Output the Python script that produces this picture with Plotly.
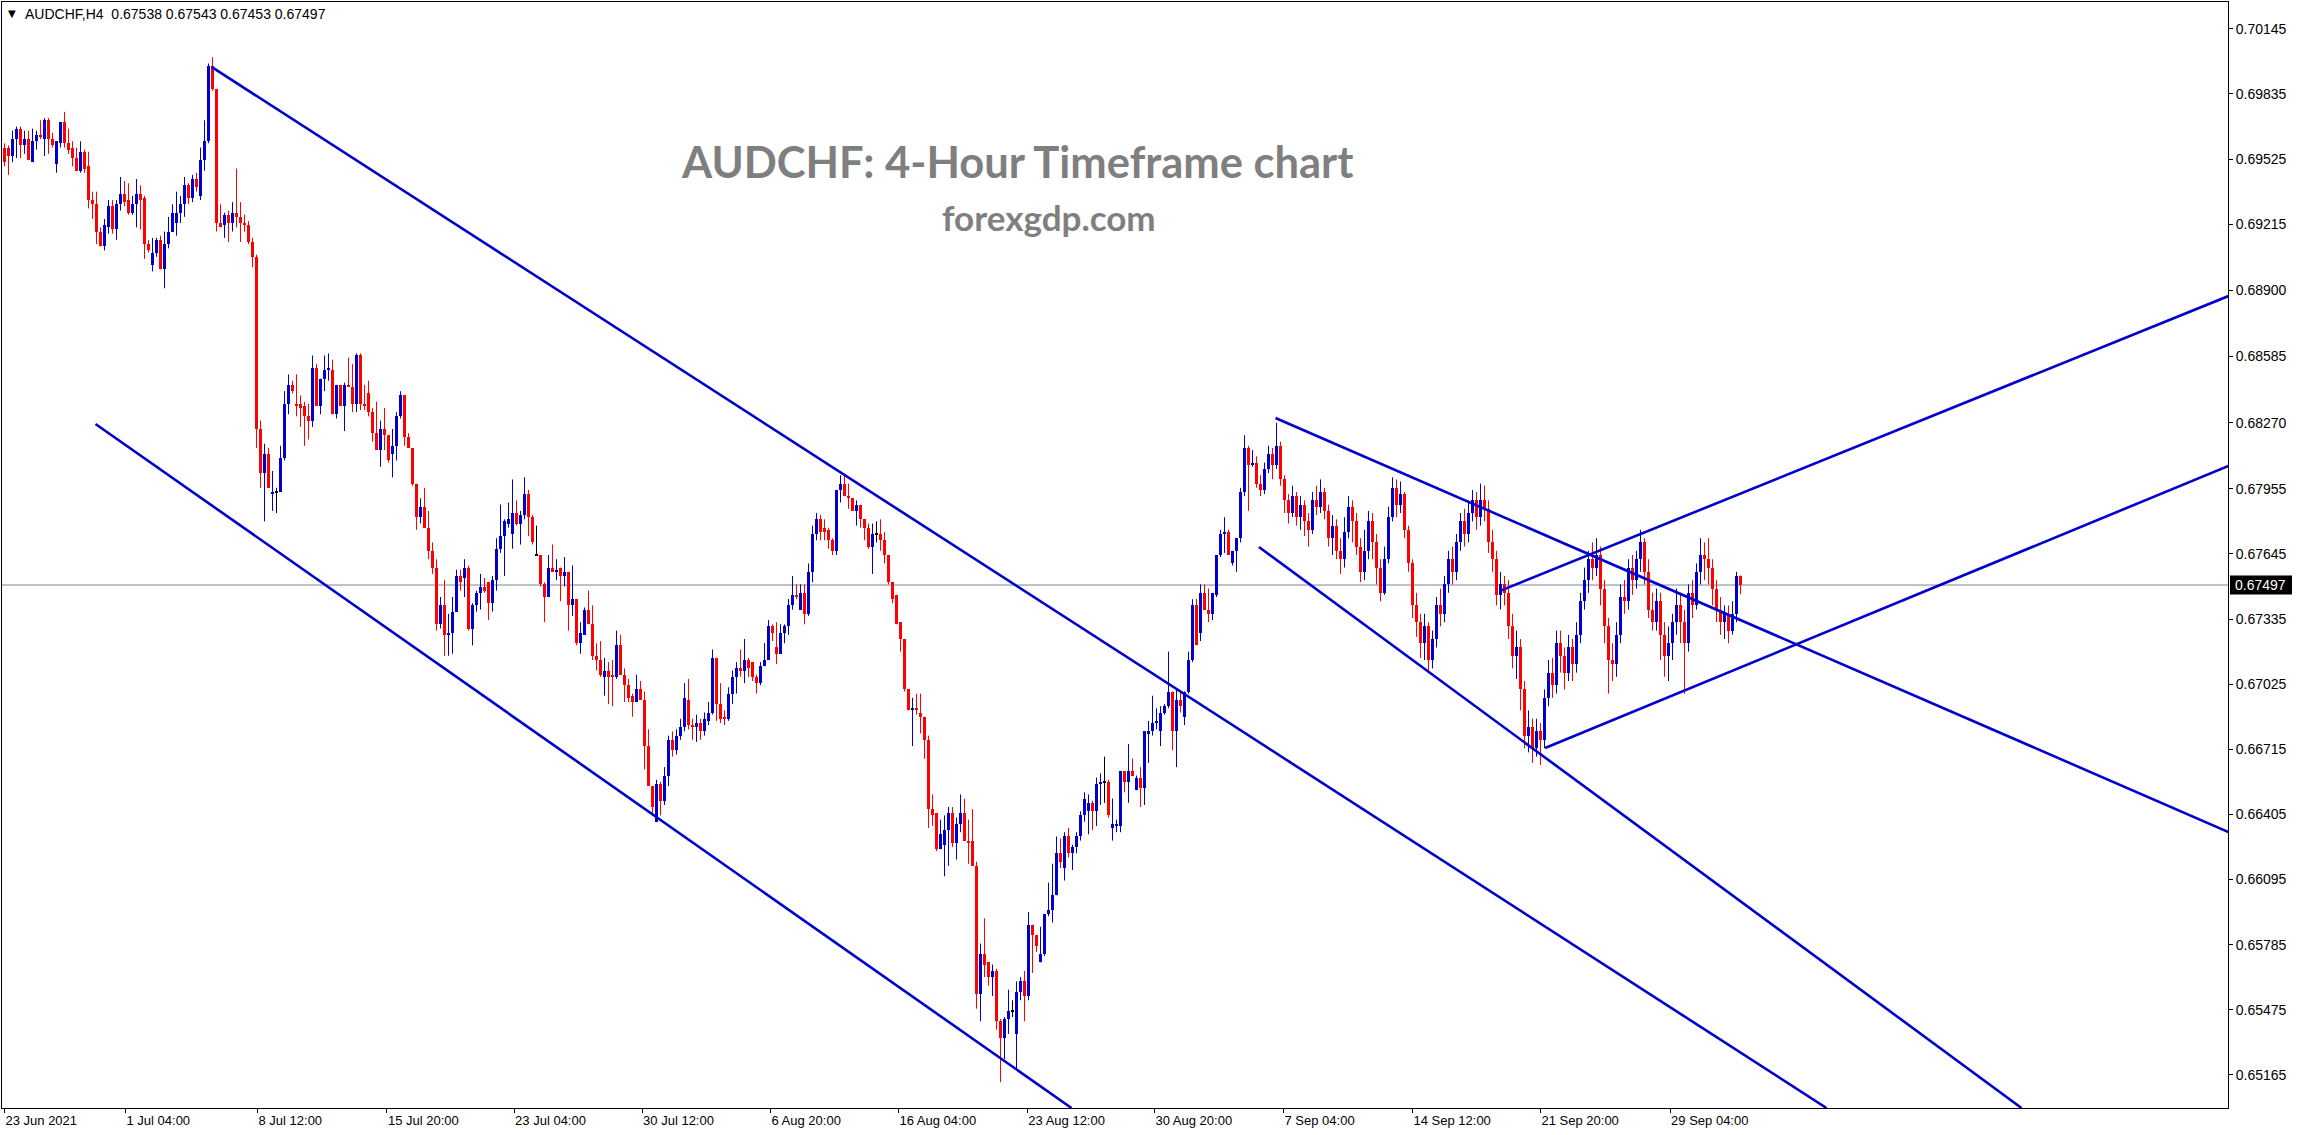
import plotly.graph_objects as go

# ---------------- DATA ----------------
# Prices are stored in pips above BASE: price = BASE + pips * PIP
BASE = 0.65
PIP = 0.0001

open_pips = [
458,458,454,462,467,459,462,451,461,464,
462,471,462,450,460,470,460,458,453,447,
456,449,433,431,418,411,420,430,419,431,
436,433,427,431,436,434,412,402,408,414,
400,412,418,422,427,431,440,434,443,435,
452,461,497,486,422,421,426,422,427,425,
422,421,413,406,324,303,312,293,294,294,
310,336,345,336,336,335,330,328,353,335,
348,352,352,331,345,335,345,344,336,359,
336,341,332,322,314,324,321,312,316,330,
340,320,315,298,282,287,277,266,258,231,
240,226,227,237,254,253,258,229,240,246,
249,251,241,252,267,273,279,274,284,279,
283,293,282,264,264,250,244,258,256,258,
254,256,240,243,222,226,238,231,216,214,
206,209,207,206,221,207,202,197,194,200,
195,173,154,137,155,147,159,176,171,178,
182,195,183,182,184,180,185,189,215,193,
187,186,198,206,210,209,214,213,206,203,
211,214,230,220,217,227,230,240,245,238,
246,236,256,274,281,277,276,271,266,295,
298,292,291,285,288,281,277,268,274,274,
271,264,251,245,232,224,200,190,191,189,
187,176,143,141,124,126,133,141,127,136,
141,128,128,116,55,74,70,63,66,42,
34,43,47,36,56,61,54,88,83,70,
74,93,95,102,122,115,130,122,125,130,
140,142,146,142,155,156,156,134,135,135,
161,156,161,152,158,153,179,180,184,180,
189,192,199,180,195,187,199,214,240,227,
246,238,236,245,264,274,275,260,266,272,
294,315,307,308,298,295,305,312,307,316,
300,290,284,292,282,288,280,276,290,287,
294,285,272,278,266,262,275,287,280,268,
256,266,280,270,258,246,262,282,296,288,
293,276,260,240,232,222,230,214,224,240,
236,250,262,256,270,280,274,284,290,282,
290,286,270,262,245,250,246,230,216,220,
200,178,182,172,180,176,196,208,202,222,
216,208,220,212,226,242,252,262,258,264,
248,230,214,212,226,244,242,258,252,262,
270,256,238,232,242,226,216,222,232,240,
232,222,246,240,256,264,262,258,248,238,
232,236,228,236,253.8,
]

high_pips = [
460,459,466,468,468,466,466,467,466,471,
472,472,465,461,470,475,467,461,458,461,
457,456,437,437,420,424,433,433,433,444,
442,441,435,443,440,435,414,415,415,416,
418,425,431,437,435,444,441,445,446,458,
471,498,501,486,431,427,428,432,448,432,
426,423,415,407,328,317,315,304,296,316,
342,350,347,350,340,337,336,359,355,348,
359,360,357,345,345,346,358,355,360,360,
345,347,334,337,328,334,321,324,332,342,
340,322,315,298,291,296,285,270,262,244,
252,236,244,257,257,262,259,241,247,255,
253,251,254,272,288,281,289,300,290,285,
301,295,283,278,264,251,264,269,262,258,
263,256,259,243,232,239,247,240,222,223,
215,213,214,228,226,210,205,198,207,204,
199,181,154,157,156,163,178,180,181,186,
203,205,186,188,186,189,194,219,215,203,
190,201,209,213,219,224,215,213,207,213,
222,233,231,232,231,231,243,254,250,250,
250,260,278,284,283,281,277,272,295,302,
303,298,291,290,288,281,279,279,280,281,
275,264,251,245,232,224,200,196,198,198,
187,178,150,141,138,140,144,144,139,150,
148,138,143,118,79,91,70,69,67,43,
44,57,52,61,63,66,94,88,83,87,
93,108,117,130,129,132,134,126,132,142,
151,150,147,158,160,168,157,148,138,161,
161,174,167,159,163,180,185,197,191,192,
193,218,199,200,199,199,218,243,243,250,
250,248,246,264,276,282,276,266,272,296,
321,316,314,311,302,308,316,315,327,318,
302,293,297,294,292,290,284,294,297,300,
296,288,283,281,272,282,292,290,284,272,
276,285,284,274,262,268,287,301,300,299,
294,278,262,246,236,236,232,228,244,248,
254,266,268,274,284,286,290,295,294,298,
297,290,276,266,256,254,252,236,228,224,
204,190,186,186,184,200,214,215,228,228,
220,226,224,232,246,258,266,270,272,268,
252,234,222,232,250,252,262,264,266,276,
272,262,246,248,246,232,230,236,248,246,
238,250,252,260,272,270,272,262,252,244,
240,240,242,256,254.3,
]

low_pips = [
449,445,451,453,453,455,452,451,457,462,
454,455,458,446,458,458,455,449,447,446,
446,429,424,412,411,409,417,417,414,428,
430,426,426,420,419,405,408,399,406,400,
391,410,418,416,422,425,431,432,437,433,
447,460,485,418,420,415,413,418,420,413,
418,412,401,315,296,280,296,285,284,294,
309,331,341,330,325,316,319,325,335,331,
342,347,331,329,335,323,344,332,332,333,
333,330,318,314,306,314,308,301,309,329,
316,315,297,276,279,277,262,255,228,229,
216,216,217,237,247,244,228,221,237,238,
246,233,237,247,265,254,277,267,278,269,
281,273,269,264,249,232,244,256,252,242,
249,228,235,221,217,226,231,214,209,206,
197,193,192,205,207,194,194,187,194,195,
162,154,140,137,140,145,154,168,169,176,
180,181,176,175,176,178,183,188,185,184,
183,185,193,198,206,203,206,204,198,202,
211,214,223,212,217,222,226,238,243,238,
231,235,251,271,271,271,267,264,264,289,
292,286,285,278,277,271,267,255,270,266,
260,250,241,231,218,199,190,173,188,179,
167,134,135,123,124,111,116,125,119,132,
128,117,116,48,42,63,59,54,38,13,
24,36,44,19,52,42,52,65,75,70,
73,92,89,102,115,109,120,114,122,128,
137,131,133,135,145,146,139,128,132,132,
151,146,159,152,144,145,165,178,181,173,
188,191,171,163,189,183,198,213,221,223,
238,232,233,244,263,265,264,259,256,270,
292,285,306,296,292,293,303,300,305,297,
284,279,282,278,276,273,268,274,283,284,
281,268,264,262,255,258,272,270,264,251,
252,262,262,250,242,245,260,280,282,284,
272,256,234,225,215,214,208,210,220,230,
232,246,250,252,266,268,270,280,276,278,
280,265,256,240,238,240,224,210,205,190,
172,170,165,168,164,172,192,196,198,208,
200,204,204,208,222,238,246,252,254,240,
222,198,204,206,222,236,238,245,248,256,
250,234,228,228,214,206,204,214,226,222,
198,218,234,238,250,252,250,240,232,226,
224,222,226,232,245.3,
]

close_pips = [
451,454,462,467,459,462,452,461,464,463,
471,462,459,461,470,460,457,453,447,456,
448,433,431,418,411,421,430,419,431,436,
432,427,431,436,433,412,409,408,414,400,
412,418,427,427,431,440,434,443,439,452,
461,497,486,422,420,426,422,427,425,422,
421,413,406,324,303,312,296,294,294,310,
336,345,342,335,334,330,328,353,335,348,
352,353,331,345,335,345,344,336,359,336,
335,332,322,314,324,321,309,316,330,340,
320,315,298,282,287,277,266,258,231,240,
226,227,237,254,251,258,229,240,246,249,
247,241,252,267,273,280,281,284,279,283,
293,282,270,264,250,244,258,256,257,254,
256,240,243,222,227,238,231,216,214,207,
209,206,206,221,207,202,196,194,200,195,
173,154,144,155,147,159,176,171,178,182,
196,183,182,184,180,186,189,215,193,186,
186,198,206,210,209,214,210,206,203,211,
214,230,227,217,227,230,240,245,244,246,
236,256,274,281,275,275,271,266,295,298,
292,291,285,288,281,277,268,274,274,271,
264,251,243,231,224,200,190,191,190,187,
176,143,140,124,131,133,141,127,136,141,
128,127,116,55,74,69,63,66,42,34,
43,47,47,56,61,54,88,83,78,74,
93,95,102,122,118,130,122,125,130,140,
148,146,142,155,156,156,140,136,136,161,
156,161,159,158,153,180,180,184,185,189,
192,199,180,195,192,199,214,240,221,246,
238,236,246,264,274,275,264,266,272,294,
315,307,308,298,295,305,312,307,316,300,
290,284,292,282,288,280,276,290,287,294,
285,272,278,266,262,275,287,280,268,256,
266,280,270,258,246,262,282,296,288,293,
276,260,240,232,222,230,214,224,240,236,
250,262,256,270,280,274,284,290,282,290,
286,270,262,245,250,246,230,216,220,200,
178,182,172,180,176,196,208,202,222,216,
208,220,212,226,242,252,262,258,264,248,
230,214,212,226,244,242,258,252,262,270,
256,238,232,242,226,216,222,232,240,232,
222,246,240,256,264,262,258,248,238,232,
236,228,236,254,249.7,
]

# time-axis labels (positions in bar numbers)
x_tick_bars = [0, 30.25, 63.25, 95.6, 127.4, 159.4, 191.5, 223.5, 255.7, 287.5, 319.75, 352, 384, 416.4]
x_tick_labels = ["23 Jun 2021", "1 Jul 04:00", "8 Jul 12:00", "15 Jul 20:00", "23 Jul 04:00",
                 "30 Jul 12:00", "6 Aug 20:00", "16 Aug 04:00", "23 Aug 12:00", "30 Aug 20:00",
                 "7 Sep 04:00", "14 Sep 12:00", "21 Sep 20:00", "29 Sep 04:00"]

# price-axis labels
y_tick_values = [0.70145, 0.69835, 0.69525, 0.69215, 0.68900, 0.68585, 0.68270, 0.67955, 0.67645,
                 0.67335, 0.67025, 0.66715, 0.66405, 0.66095, 0.65785, 0.65475, 0.65165]

symbol_name = "AUDCHF,H4"
last_bar_ohlc = [0.67538, 0.67543, 0.67453, 0.67497]
last_price = 0.67497

# trend lines: (bar0, price0, bar1, price1)
trend_lines = [
    (51.75, 0.69964, 455.5, 0.65007),
    (22.75, 0.68264, 266.75, 0.65007),
    (317.75, 0.68292, 556.0, 0.66321),
    (313.6, 0.67678, 504.25, 0.65007),
    (385.15, 0.66721, 556.0, 0.68064),
    (373.75, 0.67468, 556.0, 0.68873),
]

title_text = "AUDCHF: 4-Hour Timeframe chart"
subtitle_text = "forexgdp.com"

# ---------------- FIGURE ----------------
n = len(close_pips)
assert len(open_pips) == n and len(high_pips) == n and len(low_pips) == n

to_price = lambda v: BASE + v * PIP
O = [to_price(v) for v in open_pips]
H = [to_price(v) for v in high_pips]
L = [to_price(v) for v in low_pips]
C = [to_price(v) for v in close_pips]
idx = list(range(n))

UP = "#0000CD"
DN = "#FF0000"
DJ = "#000000"

colors, bases, heights = [], [], []
wick = {UP: ([], []), DN: ([], []), DJ: ([], [])}
for i in idx:
    o, h, l, c = O[i], H[i], L[i], C[i]
    if abs(c - o) < 1e-9:
        col = DJ
    elif c > o:
        col = UP
    else:
        col = DN
    colors.append(col)
    lo = min(o, c)
    hgt = abs(c - o)
    if hgt < 0.00005:
        lo = (o + c) / 2 - 0.000025
        hgt = 0.00005
    bases.append(lo)
    heights.append(hgt)
    wx, wy = wick[col]
    wx += [i, i, None]
    wy += [l, h, None]

fig = go.Figure()
for col, (wx, wy) in wick.items():
    fig.add_trace(go.Scatter(x=wx, y=wy, mode="lines", line=dict(color=col, width=1),
                             hoverinfo="skip", showlegend=False))
fig.add_trace(go.Bar(x=idx, y=heights, base=bases, width=0.75,
                     marker=dict(color=colors, line=dict(width=0)),
                     hoverinfo="skip", showlegend=False))

for (b0, p0, b1, p1) in trend_lines:
    fig.add_trace(go.Scatter(x=[b0, b1], y=[p0, p1], mode="lines",
                             line=dict(color=UP, width=2.6),
                             hoverinfo="skip", showlegend=False))

W, Hh = 2300, 1135
ML, MR, MT, MB = 2, 72, 2, 27
PW = W - ML - MR
PH = Hh - MT - MB

def px_x(px):
    return (px - ML) / PW

def px_y(py):
    return 1 - (py - MT) / PH

x_lo = -0.625
x_hi = x_lo + PW / 4.0
y_lo, y_hi = 0.65007, 0.70273

fig.update_layout(
    width=W, height=Hh,
    margin=dict(l=ML, r=MR, t=MT, b=MB, pad=0),
    paper_bgcolor="white", plot_bgcolor="white",
    showlegend=False,
    bargap=0,
    xaxis=dict(range=[x_lo, x_hi], showgrid=False, zeroline=False,
               showline=True, mirror=True, linecolor="black", linewidth=1,
               ticks="outside", ticklen=4, tickcolor="black",
               tickvals=x_tick_bars, ticktext=x_tick_labels,
               ticklabelposition="outside right",
               tickfont=dict(family="Liberation Sans, Arial, sans-serif", size=13, color="black"),
               fixedrange=True),
    yaxis=dict(range=[y_lo, y_hi], side="right", showgrid=False, zeroline=False,
               showline=True, mirror=True, linecolor="black", linewidth=1,
               ticks="outside", ticklen=4, tickcolor="black",
               tickvals=y_tick_values, ticktext=["%.5f" % v for v in y_tick_values],
               tickfont=dict(family="Liberation Sans, Arial, sans-serif", size=14, color="black"),
               fixedrange=True),
)

# current price line
fig.add_shape(type="line", xref="paper", yref="y", x0=0, x1=1, y0=last_price, y1=last_price,
              line=dict(color="#778899", width=1), layer="below")
# current price box on the axis
box_half = 9.5 / (PH / (y_hi - y_lo))
fig.add_shape(type="rect", xref="paper", yref="y", x0=px_x(2230), x1=px_x(2292),
              y0=last_price - box_half, y1=last_price + box_half,
              fillcolor="black", line=dict(width=0), layer="above")
fig.add_annotation(xref="paper", yref="y", x=px_x(2233), y=last_price, xanchor="left", yanchor="middle",
                   text="%.5f" % last_price, showarrow=False,
                   font=dict(family="Liberation Sans, Arial, sans-serif", size=14, color="white"))

# header
fig.add_annotation(xref="paper", yref="paper", x=px_x(6), y=px_y(13), xanchor="left", yanchor="middle",
                   text="▼", showarrow=False,
                   font=dict(family="DejaVu Sans, sans-serif", size=10, color="black"))
fig.add_annotation(xref="paper", yref="paper", x=px_x(23), y=px_y(14), xanchor="left", yanchor="middle",
                   text=symbol_name + "  " + " ".join("%.5f" % v for v in last_bar_ohlc), showarrow=False,
                   font=dict(family="Liberation Sans, Arial, sans-serif", size=14, color="black"))

# title + site
fig.add_annotation(xref="paper", yref="paper", x=px_x(1017), y=px_y(161), xanchor="center", yanchor="middle",
                   text="<b>" + title_text + "</b>", showarrow=False,
                   font=dict(family="Lato, Liberation Sans, sans-serif", size=43.5, color="#7F7F7F"))
fig.add_annotation(xref="paper", yref="paper", x=px_x(1049), y=px_y(217), xanchor="center", yanchor="middle",
                   text="<b>" + subtitle_text + "</b>", showarrow=False,
                   font=dict(family="Lato, Liberation Sans, sans-serif", size=35, color="#7F7F7F"))

fig.write_html("out.html")
